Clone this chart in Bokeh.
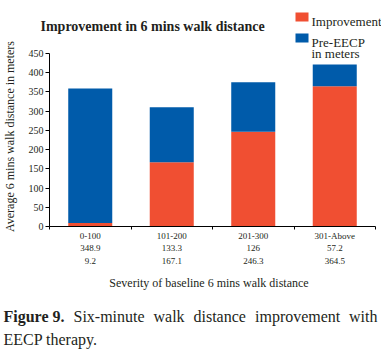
from bokeh.plotting import figure
from bokeh.models import Range1d, FixedTicker, Label, BoxAnnotation, ColumnDataSource
from bokeh.embed import file_html
from bokeh.resources import INLINE
import math

# ---- data ----
categories = ["0-100", "101-200", "201-300", "301-Above"]
improvement = [9.2, 167.1, 246.3, 364.5]
pre_eecp = [350, 143, 129, 57]          # bar segment heights as drawn
pre_eecp_table = ["348.9", "133.3", "126", "57.2"]
improvement_table = ["9.2", "167.1", "246.3", "364.5"]
y_ticks = [0, 50, 100, 150, 200, 250, 300, 350, 400, 450]

RED = "#F04F32"
BLUE = "#005BAA"
TXT = "#231f20"
SERIF = "Liberation Serif"

W, H = 381, 353
# pixel position of the chart area inside the canvas
L, R, T, B = 49, 375, 53, 226
YMAX = 450
NC = len(categories)

def xd(px):
    return (px - L) / (R - L) * NC

def yd(py):
    return (B - py) / (B - T) * YMAX

# the frame spans the whole canvas; axes are pinned at x=0 / y=0
p = figure(width=W, height=H, x_range=Range1d(xd(0), xd(W)), y_range=Range1d(yd(H), yd(0)),
           output_backend="svg", toolbar_location=None,
           min_border=0, min_border_left=0, min_border_right=0,
           min_border_top=0, min_border_bottom=0)
p.outline_line_color = None
p.xgrid.visible = False
p.ygrid.visible = False
p.background_fill_color = "white"
p.border_fill_color = "white"

src = ColumnDataSource(dict(x=[i + 0.5 for i in range(NC)],
                            improvement=improvement, pre_eecp=pre_eecp))
p.vbar_stack(["improvement", "pre_eecp"], x="x", width=0.54, color=[RED, BLUE],
             line_color=None, source=src)

# axes
p.xaxis.fixed_location = 0
p.xaxis.bounds = (0, NC)
p.xaxis.ticker = FixedTicker(ticks=list(range(NC + 1)))
p.xaxis.major_label_overrides = {i: "" for i in range(NC + 1)}
p.xaxis.major_tick_out = 3
p.xaxis.major_tick_in = 0
p.xaxis.minor_tick_line_color = None
p.xaxis.axis_line_color = "black"
p.xaxis.major_tick_line_color = "black"

p.yaxis.fixed_location = 0
p.yaxis.bounds = (0, YMAX)
p.yaxis.ticker = FixedTicker(ticks=y_ticks)
p.yaxis.major_tick_out = 4
p.yaxis.major_tick_in = 0
p.yaxis.minor_tick_line_color = None
p.yaxis.major_label_standoff = 2
p.yaxis.major_label_text_font = SERIF
p.yaxis.major_label_text_font_size = "10px"
p.yaxis.major_label_text_color = TXT
p.yaxis.axis_line_color = "black"
p.yaxis.major_tick_line_color = "black"

def lab(text, px, py, size, align="left", bold=False, baseline="alphabetic", angle=0):
    p.add_layout(Label(x=xd(px), y=yd(py), text=text, text_align=align,
                       text_baseline=baseline, text_font=SERIF,
                       text_font_size=f"{size}px", text_color=TXT,
                       text_font_style="bold" if bold else "normal", angle=angle))

# table below axis
for i, cat in enumerate(categories):
    cx = L + (i + 0.5) * (R - L) / NC
    lab(cat, cx, 235.5, 9, align="center")
    lab(pre_eecp_table[i], cx, 247, 9, align="center")
    lab(improvement_table[i], cx, 260, 9, align="center")

# axis titles
lab("Severity of baseline 6 mins walk distance", 208.5, 282, 12, align="center")
lab("Average 6 mins walk distance in meters", 9, 136, 12, align="center",
    baseline="middle", angle=math.pi / 2)

# title
lab("Improvement in 6 mins walk distance", 40, 26, 14, bold=True)

# legend
p.add_layout(BoxAnnotation(left=xd(295), right=xd(308), top=yd(12), bottom=yd(21),
                           fill_color=RED, fill_alpha=1, line_color=None))
p.add_layout(BoxAnnotation(left=xd(295), right=xd(308), top=yd(33), bottom=yd(42),
                           fill_color=BLUE, fill_alpha=1, line_color=None))
lab("Improvement", 311, 21, 13)
lab("Pre-EECP", 311, 42, 13)
lab("in meters", 311, 53, 13)

# caption (justified first line)
lab("Figure 9.", 3, 316, 16, bold=True)
for word, px in [("Six-minute", 73), ("walk", 153), ("distance", 193),
                 ("improvement", 254.5)]:
    lab(word, px, 316, 16)
lab("with", 377, 316, 16, align="right")
lab("EECP therapy.", 3, 339, 16)

open("out.html", "w").write(file_html(p, INLINE))
